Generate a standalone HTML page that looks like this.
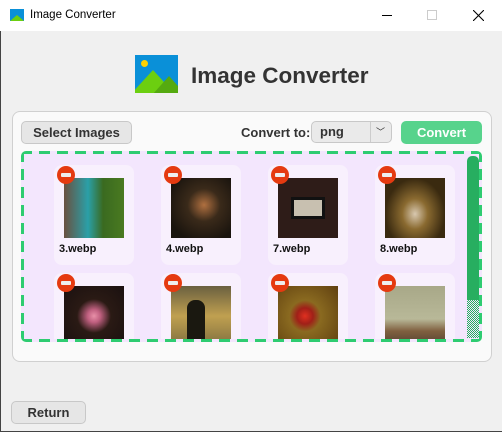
<!DOCTYPE html>
<html><head><style>
*{margin:0;padding:0;box-sizing:border-box}
body{width:502px;height:432px;overflow:hidden;background:#f0f0f0;font-family:"Liberation Sans",sans-serif;position:relative}
.a{position:absolute}
.btn{position:absolute;background:#e6e6e6;border:1px solid #c8c8c8;border-radius:5px;font-weight:bold;font-size:13px;color:#333;text-align:center}
.card{position:absolute;width:80px;height:100px;background:#f8f0fd;border-radius:8px}
.img{position:absolute;left:10px;top:13px;width:60px;height:60px}
.del{position:absolute;left:3px;top:1px;width:18px;height:18px;border-radius:50%;background:#e53a10}
.del:after{content:"";position:absolute;left:4px;top:7px;width:10px;height:4px;background:#eee;border-radius:1px}
.lbl{position:absolute;left:5px;top:78px;font-size:11px;font-weight:bold;color:#111}
.dash{position:absolute;border-radius:5px;background:
linear-gradient(90deg,#2ecc71 0 11px,transparent 11px 18px) 0 0/18px 3px repeat-x,
linear-gradient(90deg,#2ecc71 0 11px,transparent 11px 18px) 0 100%/18px 3px repeat-x,
linear-gradient(180deg,#2ecc71 0 11px,transparent 11px 18px) 0 0/3px 18px repeat-y,
linear-gradient(180deg,#2ecc71 0 11px,transparent 11px 18px) 100% 0/3px 18px repeat-y,#f3e6fd}
</style></head><body>
<div class="a" style="left:0;top:0;width:502px;height:31px;background:#fff"></div>
<div class="a" style="left:10px;top:9px;width:14px;height:12px;background:#0a90d8"><div class="a" style="left:0;bottom:0;width:0;height:0;border-left:7px solid transparent;border-right:7px solid transparent;border-bottom:6px solid #6ccf10"></div></div>
<div class="a" style="left:30px;top:9px;font-size:11.5px;color:#000">Image Converter</div>
<div class="a" style="left:382px;top:15px;width:10px;height:1px;background:#000"></div>
<div class="a" style="left:427px;top:10px;width:10px;height:10px;border:1px solid #ccc"></div>
<svg class="a" style="left:473px;top:10px" width="11" height="11"><path d="M0 0L11 11M11 0L0 11" stroke="#000" stroke-width="1.1"/></svg>
<div class="a" style="left:0;top:31px;width:1px;height:401px;background:#444"></div>
<div class="a" style="left:0;top:431px;width:502px;height:1px;background:#444"></div>

<div class="a" style="left:135px;top:55px;width:43px;height:38px;background:#0a90d8;overflow:hidden">
<div class="a" style="left:6px;top:5px;width:7px;height:7px;border-radius:50%;background:#ffd200"></div>
<div class="a" style="left:-4px;top:15px;width:0;height:0;border-left:22px solid transparent;border-right:22px solid transparent;border-bottom:24px solid #6ccf10"></div>
<div class="a" style="left:18px;top:21px;width:0;height:0;border-left:16px solid transparent;border-right:16px solid transparent;border-bottom:18px solid #55aa10"></div>
</div>
<div class="a" style="left:191px;top:63px;font-size:22.5px;font-weight:bold;color:#333">Image Converter</div>

<div class="a" style="left:12px;top:111px;width:480px;height:251px;background:#fafafa;border:1px solid #d0d0d0;border-radius:8px"></div>
<div class="btn" style="left:21px;top:121px;width:111px;height:23px;line-height:21px">Select Images</div>
<div class="a" style="left:241px;top:125px;font-size:13px;font-weight:bold;color:#333">Convert to:</div>
<div class="btn" style="left:311px;top:121px;width:81px;height:22px;line-height:20px;text-align:left;padding-left:8px;background:#eaeaea">png<div class="a" style="left:58px;top:0;width:1px;height:20px;background:#ccc"></div><div class="a" style="left:64px;top:0;font-size:9px;font-weight:normal">﹀</div></div>
<div class="btn" style="left:401px;top:121px;width:81px;height:23px;line-height:21px;background:#57d38c;border-color:#57d38c;color:#fff">Convert</div>

<div class="dash" style="left:21px;top:151px;width:461px;height:191px"></div>
<div class="a" style="left:467px;top:156px;width:12px;height:144px;background:#27ae60;border-radius:5px 5px 0 0"></div>
<div class="a" style="left:467px;top:300px;width:12px;height:38px;background:repeating-conic-gradient(#27ae60 0 25%,#f3e6fd 0 50%) 0 0/2px 2px"></div>

<div class="a" style="left:24px;top:154px;width:440px;height:185px;overflow:hidden">
<div class="card" style="left:30px;top:11px"><div class="img" style="background:linear-gradient(90deg,#6a5040 0,#2aa0a8 40%,#3a6a20 65%,#4a7a20 100%)"></div><div class="del"></div><div class="lbl">3.webp</div></div>
<div class="card" style="left:137px;top:11px"><div class="img" style="background:radial-gradient(circle at 55% 45%,#b07040 0,#3a2a1a 35%,#1a140e 80%)"></div><div class="del"></div><div class="lbl">4.webp</div></div>
<div class="card" style="left:244px;top:11px"><div class="img" style="background:#2e1c18"><div class="a" style="left:13px;top:19px;width:34px;height:22px;background:#111;padding:3px"><div style="width:28px;height:16px;background:#c8c0b0"></div></div></div><div class="del"></div><div class="lbl">7.webp</div></div>
<div class="card" style="left:351px;top:11px"><div class="img" style="background:radial-gradient(ellipse at 50% 60%,#d8c8b0 0,#8a6a30 30%,#3a2a10 70%)"></div><div class="del"></div><div class="lbl">8.webp</div></div>
<div class="card" style="left:30px;top:119px"><div class="img" style="background:radial-gradient(circle at 50% 50%,#e890a8 0,#c06080 15%,#2a1a14 40%,#1a1010 100%)"></div><div class="del"></div></div>
<div class="card" style="left:137px;top:119px"><div class="img" style="background:linear-gradient(180deg,#6a6040 0,#c0a050 50%,#807040 100%)"><div class="a" style="left:16px;top:14px;width:18px;height:46px;background:#1a1810;border-radius:8px"></div></div><div class="del"></div></div>
<div class="card" style="left:244px;top:119px"><div class="img" style="background:radial-gradient(circle at 45% 50%,#e03020 0,#a02018 18%,#8a6a20 35%,#604010 100%)"></div><div class="del"></div></div>
<div class="card" style="left:351px;top:119px"><div class="img" style="background:linear-gradient(180deg,#a8a888 0,#b8b898 55%,#806040 75%,#504030 100%)"></div><div class="del"></div></div>
</div>

<div class="btn" style="left:11px;top:401px;width:75px;height:23px;line-height:21px">Return</div>
</body></html>
